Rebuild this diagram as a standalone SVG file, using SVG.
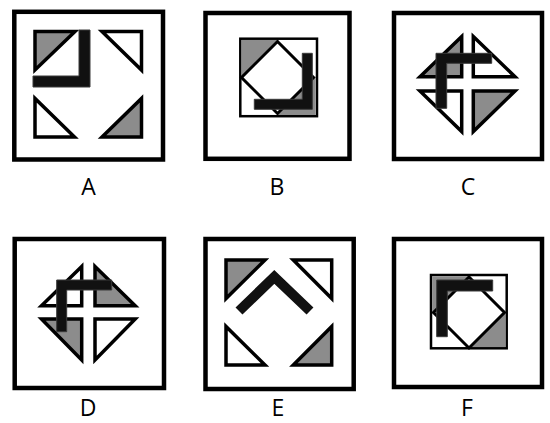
<svg xmlns="http://www.w3.org/2000/svg" width="550" height="423" viewBox="0 0 550 423">
<style>
.frame{fill:#fff;stroke:#000;stroke-width:4.5}
.inner{fill:#fff;stroke:#000;stroke-width:2.5}
.tw{fill:#fff;stroke:#000;stroke-width:3.5;stroke-linejoin:miter}
.tg{fill:#8c8c8c;stroke:#000;stroke-width:3.5;stroke-linejoin:miter}
.g{fill:#8c8c8c;stroke:none}
.dia{fill:#fff;stroke:#000;stroke-width:3}
.bar{fill:#111;stroke:#3a3a3a;stroke-width:1}
.chev{fill:none;stroke:#111;stroke-width:10;stroke-linejoin:miter;stroke-linecap:butt}
.lbl{font-family:"Open Sans","Liberation Sans",Arial,sans-serif;font-size:23px;fill:#000;text-anchor:middle}
</style>
<rect width="550" height="423" fill="#fff"/>

<g id="A">
<rect class="frame" x="14.3" y="11.8" width="148.7" height="147.7"/>
<polygon class="tg" points="35,31.5 75,31.5 35,70"/>
<polygon class="tw" points="102,31.5 141.5,31.5 141.5,70"/>
<polygon class="tw" points="35,98.5 35,137 74.5,137"/>
<polygon class="tg" points="141.5,98.5 141.5,137 102,137"/>
<polygon class="bar" points="33,76 79,76 79,30 90,30 90,87 33,87"/>
<text class="lbl" x="88.5" y="195">A</text>
</g>

<g id="B">
<rect class="frame" x="205.5" y="13" width="144" height="145.8"/>
<rect class="inner" x="240.3" y="38.7" width="76.7" height="77.5"/>
<polygon class="g" points="241.5,40 279,40 241.5,77.5"/>
<polygon class="g" points="315.7,76 315.7,115 277,115"/>
<polygon class="dia" points="277.5,41.5 313.5,77.5 277.5,113.5 241.5,77.5"/>
<polygon class="bar" points="254.3,99.3 302.3,99.3 302.3,53.3 312.3,53.3 312.3,109.3 254.3,109.3"/>
<text class="lbl" x="277" y="195">B</text>
</g>

<g id="C">
<rect class="frame" x="394" y="13" width="148" height="146"/>
<polygon class="tg" points="461.7,36.5 420,76.7 461.7,76.7"/>
<polygon class="tw" points="473.3,36.5 515,76.7 473.3,76.7"/>
<polygon class="tw" points="420,91 461.7,91 461.7,131.5"/>
<polygon class="tg" points="473.3,91 515,91 473.3,131.5"/>
<polygon class="bar" points="436,53.3 491.7,53.3 491.7,63.3 446.7,63.3 446.7,108.3 436,108.3"/>
<text class="lbl" x="468" y="195">C</text>
</g>

<g id="D">
<rect class="frame" x="14.7" y="239" width="149.3" height="149"/>
<polygon class="tw" points="81.7,266.5 41.5,305.7 81.7,305.7"/>
<polygon class="tg" points="95,266.5 135.2,305.7 95,305.7"/>
<polygon class="tg" points="41.5,319 81.7,319 81.7,360"/>
<polygon class="tw" points="95,319 135.2,319 95,360"/>
<polygon class="bar" points="56.7,280 111.7,280 111.7,290 66.7,290 66.7,331.7 56.7,331.7"/>
<text class="lbl" x="88" y="416">D</text>
</g>

<g id="E">
<rect class="frame" x="205.5" y="239" width="148.2" height="150"/>
<polygon class="tg" points="226,260 265,260 226,298.5"/>
<polygon class="tw" points="293.3,260 331.7,260 331.7,298.5"/>
<polygon class="tw" points="226,326.5 226,365 265,365"/>
<polygon class="tg" points="331.7,326.5 331.7,365 293.3,365"/>
<polyline class="chev" points="239,311 274.3,277 310,311"/>
<text class="lbl" x="278" y="416">E</text>
</g>

<g id="F">
<rect class="frame" x="394" y="239" width="148" height="148"/>
<rect class="inner" x="431" y="275" width="75.7" height="73.3"/>
<polygon class="g" points="432.2,276.2 470,276.2 432.2,314"/>
<polygon class="g" points="505.5,311 505.5,347 469.5,347"/>
<polygon class="dia" points="469,277 504.5,312.5 469,348 433.5,312.5"/>
<polygon class="bar" points="436.7,280 492.7,280 492.7,291 447.3,291 447.3,336.7 436.7,336.7"/>
<text class="lbl" x="467" y="416">F</text>
</g>
</svg>
